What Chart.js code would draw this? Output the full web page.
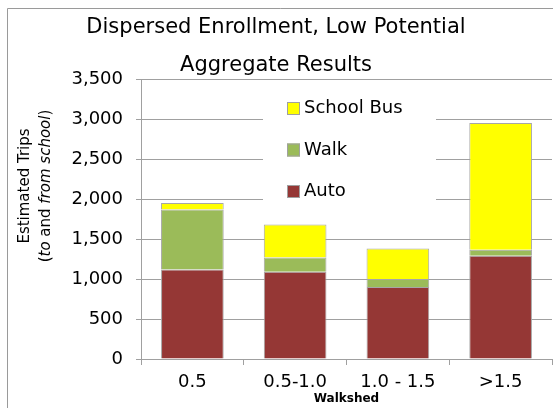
<!DOCTYPE html>
<html>
<head>
    <title>Dispersed Enrollment, Low Potential</title>
    <script src="https://cdn.jsdelivr.net/npm/chart.js"></script>
    <style>
        html, body { margin: 0; padding: 0; background: #fff; }
        #wrap { width: 553px; height: 408px; }
    </style>
</head>
<body>
    <div id="wrap"><canvas id="myChart" width="553" height="408"></canvas></div>
    <script>
        // values
        const categories = ['0.5', '0.5-1.0', '1.0 - 1.5', '>1.5'];
        const autoTrips = [1120, 1090, 900, 1290];
        const walkTrips = [750, 178, 100, 75];
        const busTrips = [80, 412, 380, 1585];
        const titleLines = ['Dispersed Enrollment, Low Potential', 'Aggregate Results'];

        const FONT = "'DejaVu Sans', sans-serif";
        const GRID = '#a0a0a0';

        // outer frame of the original chart (cropped on the right and bottom)
        const framePlugin = {
            id: 'frame',
            beforeDraw(chart) {
                const ctx = chart.ctx;
                ctx.save();
                ctx.strokeStyle = '#9a9a9a';
                ctx.lineWidth = 1;
                ctx.beginPath();
                ctx.moveTo(7.5, chart.height);
                ctx.lineTo(7.5, 8.5);
                ctx.lineTo(chart.width, 8.5);
                ctx.stroke();
                ctx.restore();
            }
        };

        // y axis title, second line partly italic
        const yTitlePlugin = {
            id: 'yTitle',
            afterDraw(chart) {
                const ctx = chart.ctx;
                const cy = 186;
                ctx.save();
                ctx.fillStyle = '#000';
                ctx.textBaseline = 'middle';
                ctx.translate(25, cy);
                ctx.rotate(-Math.PI / 2);
                ctx.font = '15px ' + FONT;
                ctx.textAlign = 'center';
                ctx.fillText('Estimated Trips', 0, 0);
                ctx.restore();

                const parts = [
                    ['(', false], ['to', true], [' and ', false], ['from school', true], [')', false]
                ];
                ctx.save();
                ctx.fillStyle = '#000';
                ctx.textBaseline = 'middle';
                ctx.translate(46, cy);
                ctx.rotate(-Math.PI / 2);
                let total = 0;
                parts.forEach(p => {
                    ctx.font = (p[1] ? 'italic ' : '') + '15px ' + FONT;
                    total += ctx.measureText(p[0]).width;
                });
                let x = -total / 2;
                ctx.textAlign = 'left';
                parts.forEach(p => {
                    ctx.font = (p[1] ? 'italic ' : '') + '15px ' + FONT;
                    ctx.fillText(p[0], x, 0);
                    x += ctx.measureText(p[0]).width;
                });
                ctx.restore();
            }
        };

        // legend sitting inside the plot, over the gridlines
        const innerLegendPlugin = {
            id: 'innerLegend',
            afterDraw(chart) {
                const ctx = chart.ctx;
                ctx.save();
                ctx.fillStyle = '#fff';
                ctx.fillRect(263, 85, 173, 127);
                const items = chart.data.datasets.slice().reverse();
                ctx.font = '18px ' + FONT;
                ctx.textBaseline = 'middle';
                ctx.textAlign = 'left';
                items.forEach((ds, i) => {
                    const cy = 108.5 + i * 41.5;
                    ctx.fillStyle = ds.backgroundColor;
                    ctx.fillRect(287, cy - 6.5, 13, 13);
                    ctx.strokeStyle = '#a0a0a0';
                    ctx.lineWidth = 1;
                    ctx.strokeRect(287.5, cy - 6, 12, 12);
                    ctx.fillStyle = '#000';
                    ctx.fillText(ds.label, 304, cy);
                });
                ctx.restore();
            }
        };

        const ctx = document.getElementById('myChart').getContext('2d');
        const myChart = new Chart(ctx, {
            type: 'bar',
            data: {
                labels: categories,
                datasets: [
                    { label: 'Auto', data: autoTrips, backgroundColor: '#953735' },
                    { label: 'Walk', data: walkTrips, backgroundColor: '#9bbb59' },
                    { label: 'School Bus', data: busTrips, backgroundColor: '#ffff00' }
                ].map(ds => Object.assign(ds, {
                    borderColor: '#a6a6a6',
                    borderWidth: 1,
                    barPercentage: 0.61,
                    categoryPercentage: 1
                }))
            },
            options: {
                responsive: false,
                animation: false,
                locale: 'en-US',
                layout: { padding: { left: 0, right: 1, top: 0, bottom: 0 } },
                plugins: {
                    legend: { display: false },
                    tooltip: { enabled: false },
                    title: {
                        display: true,
                        text: titleLines,
                        color: '#000',
                        font: { family: FONT, size: 21, weight: 'normal', lineHeight: 38 / 21 },
                        padding: { top: 9, bottom: -6 }
                    }
                },
                scales: {
                    x: {
                        stacked: true,
                        grid: {
                            display: true,
                            drawOnChartArea: false,
                            drawTicks: true,
                            tickLength: 6,
                            color: GRID
                        },
                        border: { color: GRID },
                        ticks: { color: '#000', font: { family: FONT, size: 18 }, padding: 7 },
                        title: {
                            display: true,
                            text: 'Walkshed',
                            color: '#000',
                            font: { family: FONT, size: 12, weight: 'bold' },
                            padding: { top: 0, bottom: 2 }
                        },
                        afterFit(scale) { scale.height = 49; }
                    },
                    y: {
                        stacked: true,
                        min: 0,
                        max: 3500,
                        ticks: {
                            stepSize: 500,
                            color: '#000',
                            font: { family: FONT, size: 18 },
                            padding: 13
                        },
                        grid: { color: GRID, tickLength: 5 },
                        border: { color: GRID },
                        afterFit(scale) { scale.width = 141; }
                    }
                }
            },
            plugins: [framePlugin, yTitlePlugin, innerLegendPlugin]
        });
    </script>
</body>
</html>
